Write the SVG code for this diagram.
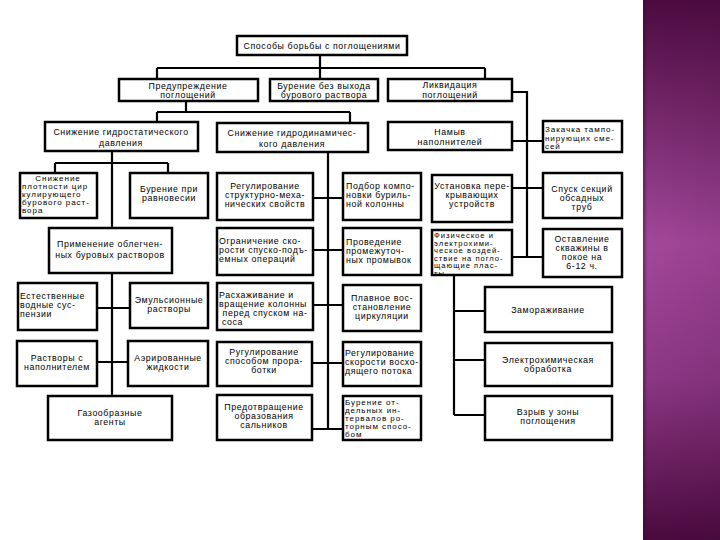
<svg xmlns="http://www.w3.org/2000/svg" width="720" height="540" viewBox="0 0 720 540">
<style>
.box{fill:#fff;stroke:#000;stroke-width:2.5}
.ln{fill:none;stroke:#000;stroke-width:2.2}
text{font-family:"Liberation Sans",Arial,sans-serif;font-size:8.8px;letter-spacing:0.6px;fill:#000}
.c{text-anchor:middle}
.s{font-size:8px;letter-spacing:0.95px}
.xs{font-size:7.6px;letter-spacing:1px}
</style>
<defs>
<linearGradient id="pg" x1="0" y1="0" x2="0" y2="1">
<stop offset="0" stop-color="#4c0b40"/>
<stop offset="0.45" stop-color="#a2489a"/>
<stop offset="0.7" stop-color="#8c3784"/>
<stop offset="1" stop-color="#4a0a3e"/>
</linearGradient>
<linearGradient id="ph" x1="0" y1="0" x2="1" y2="0">
<stop offset="0" stop-color="#3a0530" stop-opacity="0.5"/>
<stop offset="0.06" stop-color="#3a0530" stop-opacity="0"/>
<stop offset="1" stop-color="#3a0530" stop-opacity="0.1"/>
</linearGradient>
</defs>
<rect width="720" height="540" fill="#fff"/>
<rect x="643" y="0" width="77" height="540" fill="url(#pg)"/>
<rect x="643" y="0" width="77" height="540" fill="url(#ph)"/>

<g id="connectors">
<path class="ln" d="M320 55V79M157 68H485M157 68V79M485 68V79"/>
<path class="ln" d="M186 101V112M157 112H350M157 112V122M350 112V123"/>
<path class="ln" d="M112 151V396M55 163H168M55 163V173M168 163V173M97 308H130M97 362H128"/>
<path class="ln" d="M328 152V429M313 198H343M313 250H343M313 305H343M312 363H343M312 429H343"/>
<path class="ln" d="M512 92H527V257M512 141H543M512 188H543M512 257H543"/>
<path class="ln" d="M454 275V415M454 311H485M454 360H485M454 415H485"/>
</g>

<g id="n-title"><rect class="box" x="237" y="36" width="170" height="19"/><text class="c" x="322" y="49">Способы борьбы с поглощениями</text></g>
<g id="n-prev"><rect class="box" x="119" y="79" width="139" height="22"/><text class="c" x="188" y="88.5">Предупреждение</text><text class="c" x="188" y="98">поглощений</text></g>
<g id="n-bur"><rect class="box" x="270" y="79" width="108" height="22"/><text class="c" x="324" y="88.5">Бурение без выхода</text><text class="c" x="324" y="98">бурового раствора</text></g>
<g id="n-liq"><rect class="box" x="388" y="79" width="124" height="22"/><text class="c" x="450" y="88">Ликвидация</text><text class="c" x="450" y="97.5">поглощений</text></g>
<g id="n-gst"><rect class="box" x="45" y="122" width="153" height="29"/><text class="c" x="121" y="135">Снижение гидростатического</text><text class="c" x="121" y="145.5">давления</text></g>
<g id="n-gdn"><rect class="box" x="217" y="123" width="151" height="29"/><text class="c" x="292" y="136">Снижение гидродинамичес-</text><text class="c" x="292" y="146.5">кого давления</text></g>
<g id="n-namyv"><rect class="box" x="388" y="122" width="124" height="28"/><text class="c" x="450" y="135">Намыв</text><text class="c" x="450" y="145">наполнителей</text></g>
<g id="n-zak"><rect class="box" x="543" y="121" width="79" height="31"/><text class="s" x="545" y="132">Закачка тампо-</text><text class="s" x="545" y="140.5">нирующих сме-</text><text class="s" x="545" y="149">сей</text></g>
<g id="n-plot"><rect class="box" x="20" y="173" width="77" height="45"/><text class="c s" x="58" y="181">Снижение</text><text class="s" x="22" y="189">плотности цир</text><text class="s" x="22" y="197">кулирующего</text><text class="s" x="22" y="205">бурового раст-</text><text class="s" x="22" y="213">вора</text></g>
<g id="n-ravn"><rect class="box" x="130" y="173" width="78" height="45"/><text class="c" x="169" y="192">Бурение при</text><text class="c" x="169" y="201">равновесии</text></g>
<g id="n-reg1"><rect class="box" x="217" y="173" width="96" height="47"/><text class="c" x="265" y="189">Регулирование</text><text class="c" x="265" y="198">структурно-меха-</text><text class="c" x="265" y="207">нических свойств</text></g>
<g id="n-podb"><rect class="box" x="343" y="173" width="78" height="47"/><text x="346" y="189">Подбор компо-</text><text x="346" y="198">новки буриль-</text><text x="346" y="207">ной колонны</text></g>
<g id="n-ust"><rect class="box" x="432" y="175" width="80" height="47"/><text class="c" x="472" y="189">Установка пере-</text><text class="c" x="472" y="198">крывающих</text><text class="c" x="472" y="207">устройств</text></g>
<g id="n-spusk"><rect class="box" x="543" y="173" width="79" height="45"/><text class="c" x="582" y="192">Спуск секций</text><text class="c" x="582" y="201">обсадных</text><text class="c" x="582" y="210">труб</text></g>
<g id="n-prim"><rect class="box" x="49" y="228" width="123" height="45"/><text class="c" x="110" y="246.5">Применение облегчен-</text><text class="c" x="110" y="257.5">ных буровых растворов</text></g>
<g id="n-ogr"><rect class="box" x="217" y="228" width="96" height="47"/><text x="219" y="244">Ограничение ско-</text><text x="219" y="253">рости спуско-подъ-</text><text x="219" y="262">емных операций</text></g>
<g id="n-prov"><rect class="box" x="343" y="228" width="78" height="47"/><text x="346" y="245">Проведение</text><text x="346" y="254">промежуточ-</text><text x="346" y="263">ных промывок</text></g>
<g id="n-fiz"><rect class="box" x="432" y="230" width="80" height="45"/><text class="xs" x="434" y="238">Физическое и</text><text class="xs" x="434" y="245.5">электрохими-</text><text class="xs" x="434" y="253">ческое воздей-</text><text class="xs" x="434" y="260.5">ствие на погло-</text><text class="xs" x="434" y="268">щающие плас-</text><text class="xs" x="434" y="275.5">ты</text></g>
<g id="n-ost"><rect class="box" x="543" y="229" width="79" height="48"/><text class="c" x="582" y="242">Оставление</text><text class="c" x="582" y="251">скважины в</text><text class="c" x="582" y="260">покое на</text><text class="c" x="582" y="269">6-12 ч.</text></g>
<g id="n-est"><rect class="box" x="18" y="283" width="79" height="47"/><text x="20" y="299">Естественные</text><text x="20" y="308">водные сус-</text><text x="20" y="317">пензии</text></g>
<g id="n-emul"><rect class="box" x="130" y="283" width="78" height="45"/><text class="c" x="169" y="303">Эмульсионные</text><text class="c" x="169" y="312">растворы</text></g>
<g id="n-rash"><rect class="box" x="217" y="283" width="96" height="47"/><text x="219" y="298">Расхаживание и</text><text x="219" y="307">вращение колонны</text><text class="c" x="265" y="316">перед спуском на-</text><text x="222" y="325">соса</text></g>
<g id="n-plav"><rect class="box" x="343" y="285" width="78" height="46"/><text class="c" x="382" y="301">Плавное вос-</text><text class="c" x="382" y="310">становление</text><text class="c" x="382" y="319">циркуляции</text></g>
<g id="n-zamor"><rect class="box" x="485" y="287" width="127" height="45"/><text class="c" x="548" y="313">Замораживание</text></g>
<g id="n-rastv"><rect class="box" x="17" y="341" width="80" height="45"/><text class="c" x="57" y="361">Растворы с</text><text class="c" x="57" y="370">наполнителем</text></g>
<g id="n-aer"><rect class="box" x="128" y="341" width="80" height="45"/><text class="c" x="168" y="361">Аэрированные</text><text class="c" x="168" y="370">жидкости</text></g>
<g id="n-rug"><rect class="box" x="217" y="342" width="95" height="44"/><text class="c" x="264" y="355">Ругулирование</text><text class="c" x="264" y="364">способом прора-</text><text class="c" x="264" y="373">ботки</text></g>
<g id="n-reg2"><rect class="box" x="343" y="342" width="78" height="44"/><text x="345" y="356">Регулирование</text><text x="345" y="365">скорости восхо-</text><text x="345" y="374">дящего потока</text></g>
<g id="n-elch"><rect class="box" x="485" y="343" width="127" height="43"/><text class="c" x="548" y="363">Электрохимическая</text><text class="c" x="548" y="372">обработка</text></g>
<g id="n-gaz"><rect class="box" x="48" y="396" width="124" height="44"/><text class="c" x="110" y="416">Газообразные</text><text class="c" x="110" y="425">агенты</text></g>
<g id="n-predot"><rect class="box" x="217" y="395" width="95" height="45"/><text class="c" x="264" y="410">Предотвращение</text><text class="c" x="264" y="419">образования</text><text class="c" x="264" y="428">сальников</text></g>
<g id="n-burotd"><rect class="box" x="343" y="396" width="78" height="44"/><text class="s" x="345" y="405">Бурение от-</text><text class="s" x="345" y="413">дельных ин-</text><text class="s" x="345" y="421">тервалов ро-</text><text class="s" x="345" y="429">торным спосо-</text><text class="s" x="345" y="437">бом</text></g>
<g id="n-vzryv"><rect class="box" x="485" y="396" width="127" height="44"/><text class="c" x="548" y="415">Взрыв у зоны</text><text class="c" x="548" y="424">поглощения</text></g>
</svg>
